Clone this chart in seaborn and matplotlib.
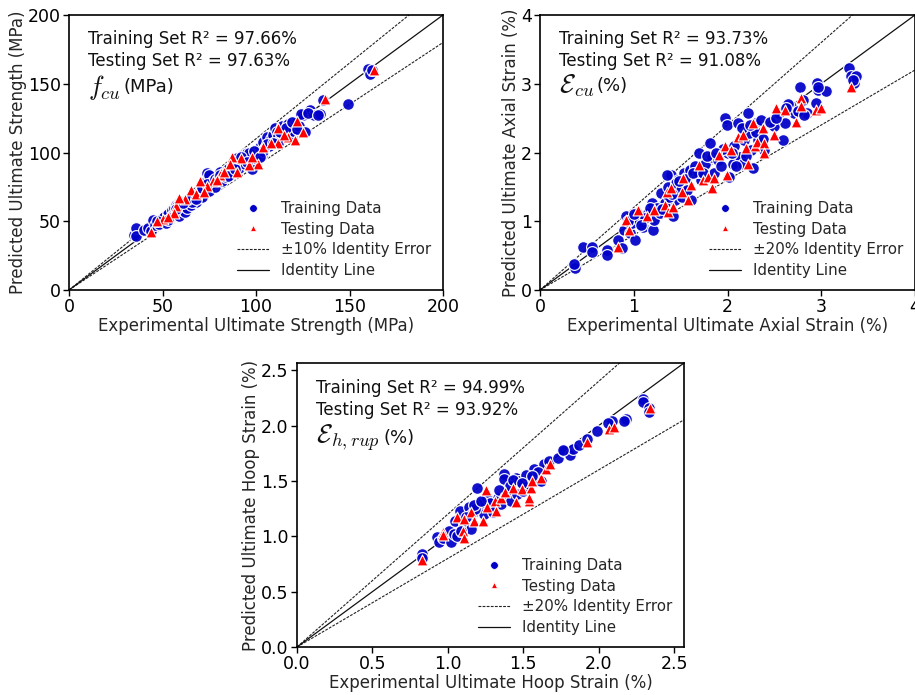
import numpy as np
import pandas as pd
import seaborn as sns
import matplotlib
matplotlib.use("Agg")
import matplotlib.pyplot as plt
from matplotlib.lines import Line2D

# ---------------- data: panel 1 (ultimate strength, MPa) ----------------
fcu_train_x = [35, 36, 36, 40, 42, 44, 45, 46, 48, 49, 50, 51, 52, 53, 54, 55, 55, 56, 57, 58,
               59, 59, 60, 61, 62, 62, 63, 64, 65, 66, 67, 68, 69, 70, 71, 72, 73, 74, 75, 75,
               76, 77, 78, 79, 80, 81, 82, 83, 84, 85, 86, 87, 88, 89, 90, 91, 92, 93, 94, 95,
               96, 97, 98, 99, 100, 101, 102, 103, 104, 105, 106, 107, 108, 109, 110, 111, 112,
               113, 114, 115, 116, 117, 118, 119, 120, 121, 122, 123, 125, 126, 129, 131, 134,
               136, 149, 160, 161, 162, 58, 66, 88, 96, 104, 112,
               47, 53, 57, 61, 64, 68, 71, 74, 78, 81, 85, 89, 92, 95, 99, 102, 106, 109, 113,
               116, 119, 122, 124, 128, 133]
fcu_train_y = [40, 45, 39, 44, 45, 43, 51, 47, 48, 52, 50, 53, 49, 55, 52, 58, 54, 60, 62, 56,
               54, 63, 58, 61, 57, 64, 60, 66, 62, 68, 65, 64, 70, 72, 68, 78, 74, 85, 84, 72,
               77, 79, 75, 80, 82, 86, 79, 85, 82, 88, 84, 90, 86, 92, 96, 89, 94, 98, 92, 100,
               94, 98, 88, 96, 102, 99, 104, 98, 108, 103, 111, 105, 110, 113, 118, 115, 112,
               109, 119, 116, 114, 121, 118, 113, 116, 120, 122, 119, 127, 115, 131, 127, 128,
               138, 135, 161, 157, 160, 61, 64, 91, 100, 101, 107,
               50, 51, 59, 63, 67, 66, 74, 77, 81, 84, 83, 88, 97, 93, 101, 97, 106, 107, 115,
               118, 122, 117, 128, 129, 127]
fcu_test_x = [163, 137, 122, 125, 117, 121, 112, 112, 104, 101, 96, 92, 87, 86, 90, 81, 77, 74,
              70, 65, 62, 57, 56, 50, 47, 44, 59, 68, 83, 98, 108, 115, 79, 72, 53]
fcu_test_y = [160, 139, 123, 115, 111, 109, 118, 107, 104, 92, 91, 96, 97, 92, 86, 84, 79, 76,
              79, 73, 66, 61, 56, 52, 50, 42, 67, 70, 86, 97, 107, 113, 80, 71, 53]

# ---------------- data: panel 2 (ultimate axial strain, %) ----------------
ecu_train_x = [0.37, 0.46, 0.55, 0.55, 0.71, 0.71, 0.83, 0.87, 0.90, 0.92, 0.96, 0.98, 1.03, 1.01,
               1.06, 1.10, 1.15, 1.19, 1.21, 1.22, 1.28, 1.29, 1.33, 1.37, 1.40, 1.42, 1.44, 1.47,
               1.51, 1.54, 1.58, 1.60, 1.61, 1.65, 1.70, 1.72, 1.76, 1.81, 1.83, 1.86, 1.90, 1.93,
               1.97, 1.99, 2.00, 2.02, 2.06, 2.07, 2.11, 2.13, 2.16, 2.18, 2.22, 2.23, 2.25, 2.27,
               2.29, 2.32, 2.36, 2.39, 2.50, 2.55, 2.59, 2.61, 2.68, 2.71, 2.77, 2.80, 2.85, 2.94,
               2.95, 2.96, 3.05, 3.30, 3.32, 3.35, 3.37, 1.12, 1.25, 1.38, 1.45, 1.55, 1.68, 1.78,
               2.05, 2.15, 2.30, 2.45, 2.65, 2.75, 1.35, 1.50, 1.95, 2.20,
               0.36, 0.94, 1.00, 1.08, 1.17, 1.30, 1.41, 1.48, 1.57, 1.63, 1.74, 1.88, 2.09, 2.24,
               2.38, 2.52, 2.62, 2.82, 2.97, 3.34]
ecu_train_y = [0.32, 0.63, 0.63, 0.56, 0.58, 0.51, 0.73, 0.61, 0.87, 1.07, 0.83, 0.97, 1.12, 0.73,
               1.02, 0.92, 1.12, 1.26, 0.87, 1.02, 1.12, 1.41, 1.26, 1.50, 1.67, 1.07, 1.31, 1.60,
               1.36, 1.70, 1.50, 1.75, 1.31, 1.80, 1.99, 1.60, 1.84, 2.14, 1.94, 1.70, 1.89, 1.80,
               2.50, 2.40, 1.99, 1.65, 1.84, 2.09, 2.43, 1.94, 1.84, 2.18, 2.57, 2.28, 2.04, 1.77,
               2.43, 2.18, 2.48, 2.04, 2.38, 2.57, 2.18, 2.43, 2.67, 2.57, 2.96, 2.77, 2.57, 2.72,
               3.01, 2.91, 2.89, 3.23, 3.11, 3.01, 3.11, 1.05, 1.20, 1.35, 1.55, 1.62, 1.72, 1.95,
               2.00, 2.35, 2.30, 2.45, 2.70, 2.60, 1.68, 1.45, 2.05, 1.95,
               0.38, 1.00, 1.10, 0.95, 1.20, 1.18, 1.40, 1.58, 1.45, 1.70, 1.70, 2.00, 1.80, 2.40,
               2.20, 2.50, 2.65, 2.55, 2.95, 3.05]
ecu_test_x = [0.83, 0.92, 0.95, 1.05, 1.14, 1.22, 1.33, 1.35, 1.37, 1.40, 1.42, 1.51, 1.52, 1.58,
              1.61, 1.70, 1.74, 1.79, 1.83, 1.86, 1.91, 1.97, 1.99, 2.04, 2.11, 2.16, 2.20, 2.22,
              2.27, 2.29, 2.31, 2.38, 2.39, 2.39, 2.50, 2.52, 2.61, 2.73, 2.78, 2.78, 2.94, 3.00,
              3.32]
ecu_test_y = [0.63, 1.02, 0.87, 1.17, 1.07, 1.17, 1.24, 1.43, 1.14, 1.48, 1.21, 1.43, 1.63, 1.31,
              1.53, 1.82, 1.60, 1.65, 1.48, 1.63, 1.97, 2.09, 1.67, 2.04, 2.23, 2.26, 2.06, 1.84,
              2.43, 2.09, 2.16, 2.35, 2.14, 1.99, 2.26, 2.65, 2.62, 2.45, 2.79, 2.67, 2.62, 2.65,
              2.95]

# ---------------- data: panel 3 (ultimate hoop strain, %) ----------------
eh_train_x = [0.83, 0.83, 0.93, 0.94, 0.97, 1.01, 1.02, 1.04, 1.05, 1.08, 1.11, 1.14, 1.15, 1.16,
              1.19, 1.21, 1.24, 1.26, 1.31, 1.33, 1.35, 1.37, 1.37, 1.39, 1.42, 1.45, 1.46, 1.47,
              1.50, 1.54, 1.57, 1.59, 1.64, 1.67, 1.73, 1.77, 1.81, 1.83, 1.87, 1.92, 1.99, 2.09,
              2.18, 2.29, 2.29, 2.33, 2.33, 1.06, 1.12, 1.18, 1.28, 1.30, 1.41, 1.52, 1.60, 1.62,
              1.09, 1.17, 1.22, 1.34, 1.43, 1.49, 1.56, 1.76, 2.06, 2.17]
eh_train_y = [0.84, 0.80, 0.99, 0.95, 0.98, 1.05, 0.95, 1.02, 1.14, 1.23, 1.11, 1.26, 1.07, 1.20,
              1.44, 1.29, 1.20, 1.35, 1.26, 1.35, 1.29, 1.56, 1.52, 1.38, 1.32, 1.53, 1.38, 1.50,
              1.41, 1.47, 1.61, 1.50, 1.65, 1.68, 1.71, 1.77, 1.73, 1.79, 1.82, 1.88, 1.95, 2.04,
              2.06, 2.24, 2.21, 2.16, 2.12, 1.00, 1.17, 1.25, 1.30, 1.22, 1.45, 1.55, 1.58, 1.50,
              1.05, 1.28, 1.32, 1.42, 1.51, 1.48, 1.54, 1.78, 2.02, 2.04]
eh_test_x = [0.83, 0.97, 0.97, 1.06, 1.10, 1.11, 1.11, 1.15, 1.17, 1.23, 1.25, 1.26, 1.31, 1.32,
             1.35, 1.38, 1.43, 1.45, 1.49, 1.54, 1.54, 1.55, 1.56, 1.62, 1.65, 1.68, 1.92, 2.07,
             2.10, 2.34]
eh_test_y = [0.79, 1.04, 1.01, 1.17, 1.05, 0.98, 1.16, 1.22, 1.14, 1.14, 1.42, 1.26, 1.32, 1.23,
             1.35, 1.40, 1.44, 1.31, 1.43, 1.32, 1.35, 1.44, 1.50, 1.53, 1.61, 1.65, 1.85, 1.97,
             1.99, 2.16]

# ---------------- texts ----------------
xlabels = ["Experimental Ultimate Strength (MPa)", "Experimental Ultimate Axial Strain (%)",
           "Experimental Ultimate Hoop Strain (%)"]
ylabels = ["Predicted Ultimate Strength (MPa)", "Predicted Ultimate Axial Strain (%)",
           "Predicted Ultimate Hoop Strain (%)"]
train_r2 = ["97.66%", "93.73%", "94.99%"]
test_r2 = ["97.63%", "91.08%", "93.92%"]
symbols = [r"$f_{cu}$", r"$\mathcal{E}_{cu}$", r"$\mathcal{E}_{h,rup}$"]
units = ["(MPa)", "(%)", "(%)"]
err_pct = [0.10, 0.20, 0.20]
limits = [200, 4, 2.565]
ticks = [[0, 50, 100, 150, 200], [0, 1, 2, 3, 4], [0.0, 0.5, 1.0, 1.5, 2.0, 2.5]]
ticklabels = [["0", "50", "100", "150", "200"], ["0", "1", "2", "3", "4"],
              ["0.0", "0.5", "1.0", "1.5", "2.0", "2.5"]]

sns.set_theme(style="white")
plt.rcParams["font.family"] = ["DejaVu Sans"]
plt.rcParams["mathtext.fontset"] = "cm"

fig = plt.figure(figsize=(9.15, 6.95), dpi=100)
rects = [
    [69 / 915, (695 - 290) / 695, 374 / 915, 275 / 695],
    [540 / 915, (695 - 290) / 695, 375 / 915, 275 / 695],
    [297 / 915, (695 - 647) / 695, 387 / 915, 284 / 695],
]
datasets = [
    (fcu_train_x, fcu_train_y, fcu_test_x, fcu_test_y),
    (ecu_train_x, ecu_train_y, ecu_test_x, ecu_test_y),
    (eh_train_x, eh_train_y, eh_test_x, eh_test_y),
]

BLUE = "#0000c8"
RED = "#ff0000"
LINE = "#222222"

for i in range(3):
    ax = fig.add_axes(rects[i])
    trx, tr_y, tex, tey = datasets[i]
    train_df = pd.DataFrame({"x": trx, "y": tr_y})
    test_df = pd.DataFrame({"x": tex, "y": tey})
    sns.scatterplot(data=train_df, x="x", y="y", ax=ax, color=BLUE, marker="o", s=72,
                    edgecolor="white", linewidth=0.9, alpha=0.93, zorder=3, legend=False)
    sns.scatterplot(data=test_df, x="x", y="y", ax=ax, color=RED, marker="^", s=62,
                    edgecolor="white", linewidth=0.8, zorder=4, legend=False)
    L = limits[i]
    e = err_pct[i]
    ax.plot([0, L], [0, L * (1 + e)], color=LINE, ls="--", lw=0.8, dashes=(2.5, 1.2), zorder=2)
    ax.plot([0, L], [0, L * (1 - e)], color=LINE, ls="--", lw=0.8, dashes=(2.5, 1.2), zorder=2)
    ax.plot([0, L], [0, L], color="#111111", lw=0.9, zorder=2)
    ax.set_xlim(0, L)
    ax.set_ylim(0, L)
    ax.set_xticks(ticks[i])
    ax.set_xticklabels(ticklabels[i])
    ax.set_yticks(ticks[i])
    ax.set_yticklabels(ticklabels[i])
    ax.tick_params(labelsize=12.5, length=4, width=1, colors="black", direction="out",
                   bottom=True, left=True, pad=2)
    ax.set_xlabel(xlabels[i], fontsize=12, labelpad=0.5)
    ax.set_ylabel(ylabels[i], fontsize=12, labelpad=0.5)
    for sp in ax.spines.values():
        sp.set_color("black")
        sp.set_linewidth(1.2)
    ax.text(0.05, 0.945, "Training Set R\u00b2 = " + train_r2[i], transform=ax.transAxes,
            fontsize=12, va="top", ha="left", color="#111111")
    ax.text(0.05, 0.865, "Testing Set R\u00b2 = " + test_r2[i], transform=ax.transAxes,
            fontsize=12, va="top", ha="left", color="#111111")
    sym = ax.text(0.05, 0.79, symbols[i], transform=ax.transAxes,
                  fontsize=19, va="top", ha="left", color="#111111")
    ax.annotate(units[i], xy=(1.0, 0.5), xycoords=sym, xytext=(2, 0),
                textcoords="offset points", fontsize=13, va="center", ha="left",
                color="#111111")
    handles = [
        Line2D([], [], ls="none", marker="o", markersize=5.5, color=BLUE,
               markeredgecolor="white", markeredgewidth=0.5),
        Line2D([], [], ls="none", marker="^", markersize=5, color=RED,
               markeredgecolor="white", markeredgewidth=0.5),
        Line2D([], [], color=LINE, ls="--", lw=0.8, dashes=(2.5, 1.2)),
        Line2D([], [], color="#111111", lw=0.9),
    ]
    labels = ["Training Data", "Testing Data",
              "\u00b1%d%% Identity Error" % round(e * 100), "Identity Line"]
    ax.legend(handles, labels, loc="lower right", frameon=False, fontsize=10.8,
              handlelength=2.1, handletextpad=0.8, labelspacing=0.38, borderaxespad=0.4)

fig.savefig("out.png", dpi=100)
